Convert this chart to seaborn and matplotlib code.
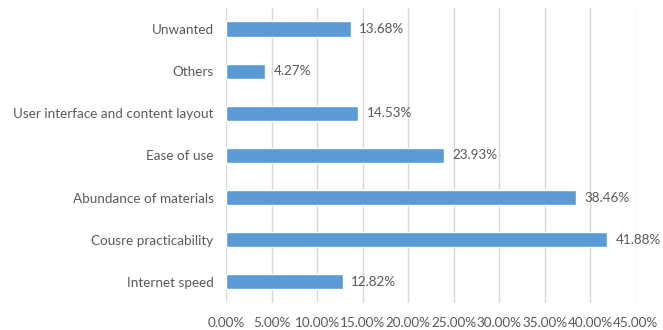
import matplotlib
matplotlib.use("Agg")
import matplotlib.pyplot as plt
import seaborn as sns
import pandas as pd
from matplotlib.ticker import FuncFormatter, MultipleLocator

categories = ["Unwanted", "Others", "User interface and content layout", "Ease of use",
              "Abundance of materials", "Cousre practicability", "Internet speed"]
values = [13.68, 4.27, 14.53, 23.93, 38.46, 41.88, 12.82]
value_labels = ["13.68%", "4.27%", "14.53%", "23.93%", "38.46%", "41.88%", "12.82%"]

sns.set_theme(style="white")
plt.rcParams['font.family'] = ['Lato', 'DejaVu Sans']

df = pd.DataFrame({"cat": categories, "val": values})
fig = plt.figure(figsize=(6.63, 3.30), dpi=100)
ax = fig.add_axes([0.341, 0.082, 0.618, 0.894])
sns.barplot(data=df, y="cat", x="val", orient="h", color="#5B9BD5", width=0.36,
            saturation=1, ax=ax, zorder=3)
ax.set_xlim(0, 45)
ax.xaxis.set_major_locator(MultipleLocator(5))
ax.xaxis.set_major_formatter(FuncFormatter(lambda v, p: f"{v:.2f}%"))
ax.grid(axis="x", color="#D9D9D9", linewidth=1, zorder=0)
ax.grid(axis="y", visible=False)
for s in ax.spines.values():
    s.set_visible(False)
ax.set_xlabel("")
ax.set_ylabel("")
ax.tick_params(axis="both", length=0, labelsize=9.75, colors="#595959")
ax.tick_params(axis="x", pad=10)
ax.tick_params(axis="y", pad=9)
ax.bar_label(ax.containers[0], labels=value_labels, padding=6, fontsize=9.75, color="#595959")
fig.savefig("out.png", dpi=100)
